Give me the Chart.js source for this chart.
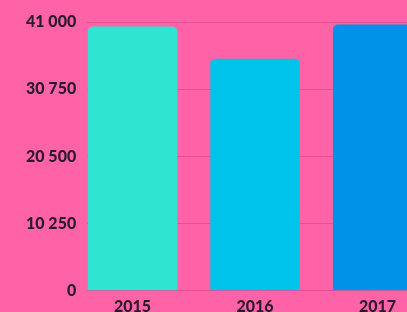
<!DOCTYPE html>
<html>
<head>
<meta charset="utf-8">
<script src="https://cdn.jsdelivr.net/npm/chart.js@4.4.1/dist/chart.umd.min.js"></script>
<style>
    html, body { margin: 0; padding: 0; background: #FF63A7; overflow: hidden; }
    #wrap { width: 407px; height: 322px; }
</style>
</head>
<body>
<div id="wrap"><canvas id="myChart"></canvas></div>
<script>
// Chart data
const years = [2015, 2016, 2017];
const values = [40300, 35400, 40600];
const yTicks = [0, 10250, 20500, 30750, 41000];
const barColors = ['#30E4D2', '#00C3EB', '#0092E8'];

// 41000 -> "41 000"
function formatNumber(v) {
    return String(v).replace(/\B(?=(\d{3})+(?!\d))/g, ' ');
}

const labelFont = { family: 'Lato', size: 16, weight: '900' };
const ctx = document.getElementById('myChart');

new Chart(ctx, {
    type: 'bar',
    data: {
        datasets: [{
            data: years.map((y, i) => ({ x: y, y: values[i] })),
            backgroundColor: barColors,
            borderRadius: 5,
            borderSkipped: 'start',
            barPercentage: 0.73,
            categoryPercentage: 1
        }]
    },
    options: {
        responsive: true,
        maintainAspectRatio: false,
        animation: false,
        layout: { padding: { top: 22, left: 15, right: 0, bottom: 0 } },
        plugins: {
            legend: { display: false },
            tooltip: { enabled: false }
        },
        scales: {
            x: {
                type: 'linear',
                offset: false,
                min: years[0] - 0.37,
                max: years[2] + 0.24,
                afterBuildTicks: s => { s.ticks = years.map(v => ({ value: v })); },
                grid: { display: false, offset: false, drawTicks: false },
                border: { display: false },
                ticks: {
                    padding: 6,
                    color: '#2B1A2C',
                    font: labelFont,
                    callback: v => String(v)
                }
            },
            y: {
                min: 0,
                max: 41000,
                afterBuildTicks: s => { s.ticks = yTicks.map(v => ({ value: v })); },
                grid: { color: 'rgba(205, 60, 130, 0.5)', drawTicks: false },
                border: { display: false },
                ticks: {
                    padding: 11,
                    color: '#2B1A2C',
                    font: labelFont,
                    callback: v => formatNumber(v)
                }
            }
        }
    }
});
</script>
</body>
</html>
